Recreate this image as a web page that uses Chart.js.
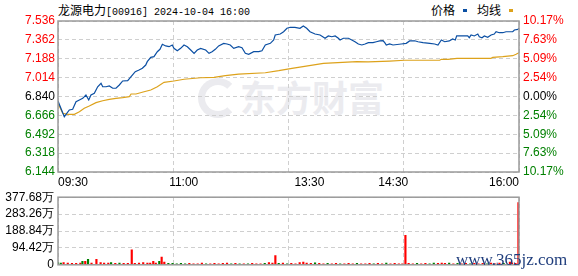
<!DOCTYPE html>
<html>
<head>
<meta charset="utf-8">
<script src="https://cdn.jsdelivr.net/npm/chart.js@4.4.1/dist/chart.umd.min.js"></script>
<style>
body { margin: 0; background: #fff; width: 578px; height: 276px; overflow: hidden; position: relative; }
canvas { position: absolute; left: 0; }
.txt { position: absolute; white-space: nowrap; }
.cn { font-family: 'Noto Sans CJK SC', sans-serif; font-size: 12px; line-height: 14px; }
.mono { font-family: 'Liberation Mono', monospace; font-size: 10px; line-height: 14px; }
.mark { width: 4px; height: 3px; position: absolute; }
#wmText { left: 240px; top: 76px; font-family: 'Noto Sans CJK SC'; font-weight: bold; font-size: 36px; line-height: 40px; color: #ebebef; }
#wmLogo { left: 198px; top: 78px; width: 26px; height: 26px; border: 7px solid #ebebef; border-right-color: transparent; border-radius: 50%; }
#site { left: 456px; top: 251px; font-family: 'Liberation Serif', serif; font-size: 17px; line-height: 17px; color: #1f3d7c; z-index: 5; }
</style>
</head>
<body>
<div id="wmLogo" class="txt"></div>
<div id="wmText" class="txt">东方财富</div>
<div class="txt" style="left:58px;top:1px"><span class="cn">龙源电力</span><span class="mono">[00916] 2024-10-04 16:00</span></div>
<div class="txt cn" style="left:431px;top:3px">价格</div>
<div class="mark" style="left:463px;top:9px;background:#0b4fa3"></div>
<div class="txt cn" style="left:477px;top:3px">均线</div>
<div class="mark" style="left:509px;top:9px;background:#dda21b"></div>
<canvas id="priceChart" width="578" height="192" style="top:0"></canvas>
<canvas id="volChart" width="578" height="90" style="top:186px"></canvas>
<div id="site" class="txt">www.365jz.com</div>
<script>
// minutes since 09:30 (lunch break removed), 330 = 16:00
const prevClose = 6.840;
const timeTicks = [0, 90, 180, 240, 330];
const timeLabels = ['09:30', '11:00', '13:30', '14:30', '16:00'];
const gridTicks = [0, 82.5, 165, 247.5, 330];

const priceTicks = [6.144, 6.318, 6.492, 6.666, 6.840, 7.014, 7.188, 7.362, 7.536];
const pctLabels = ['10.17%', '7.63%', '5.09%', '2.54%', '0.00%', '2.54%', '5.09%', '7.63%', '10.17%'];

const priceMin = [0, 4.5, 8.1, 10.5, 12.9, 15.3, 17.7, 20, 22, 23.6,
    26, 28.4, 30.8, 32, 34.4, 36.7, 39.2, 41.5, 43.9, 46.3,
    49.9, 52.3, 55.3, 58, 60.4, 62.8, 63.9, 66.4, 68.7, 71.1,
    73, 74.7, 77.1, 79.5, 81.8, 83, 85.4, 87.8, 90.2, 92.6,
    95, 97.4, 99.7, 102.1, 105.7, 108.1, 110.3, 112.6, 115, 118.6,
    121, 123.3, 125.8, 129.3, 131.7, 134.1, 136.5, 140.1, 143.7, 146,
    148.4, 152, 154.4, 155.5, 159.1, 161.5, 163.9, 166.3, 169.6, 173.2,
    175.6, 178, 180.4, 184, 187.6, 191.2, 193.5, 196, 198.4, 200.7,
    201.9, 204.3, 207.9, 210.3, 212.6, 215, 217.5, 219.8, 222.2, 225.5,
    227.9, 230.3, 232.7, 233.9, 235, 237.4, 239.8, 245.7, 249.3, 251.7,
    255.3, 257.7, 261.3, 266.1, 269.6, 272, 274.4, 276.8, 280.1, 282.5,
    284.4, 285.4, 288.5, 293.3, 294.4, 295.7, 298, 300.5, 301.6, 303.5,
    305.2, 307.6, 310, 312.3, 313.6, 315.9, 318.4, 320.7, 325.5, 326.7,
    329.1, 330];
const price = [6.798, 6.654, 6.716, 6.722, 6.792, 6.808, 6.823, 6.854, 6.808, 6.854,
    6.870, 6.930, 6.962, 6.930, 6.930, 6.937, 6.916, 6.916, 6.946, 6.983,
    6.986, 7.023, 7.069, 7.084, 7.100, 7.130, 7.161, 7.201, 7.207, 7.253,
    7.275, 7.321, 7.306, 7.299, 7.315, 7.284, 7.262, 7.284, 7.315, 7.299,
    7.269, 7.238, 7.269, 7.284, 7.269, 7.238, 7.253, 7.275, 7.306, 7.330,
    7.324, 7.315, 7.284, 7.299, 7.290, 7.238, 7.229, 7.253, 7.253, 7.262,
    7.315, 7.330, 7.361, 7.407, 7.416, 7.437, 7.469, 7.478, 7.478, 7.469,
    7.490, 7.469, 7.437, 7.416, 7.407, 7.377, 7.398, 7.391, 7.398, 7.377,
    7.361, 7.377, 7.377, 7.361, 7.345, 7.324, 7.315, 7.324, 7.336, 7.336,
    7.345, 7.352, 7.354, 7.336, 7.315, 7.324, 7.315, 7.324, 7.330, 7.352,
    7.354, 7.345, 7.336, 7.330, 7.324, 7.315, 7.361, 7.345, 7.352, 7.370,
    7.361, 7.400, 7.398, 7.398, 7.382, 7.407, 7.398, 7.416, 7.391, 7.382,
    7.398, 7.386, 7.407, 7.416, 7.437, 7.428, 7.428, 7.437, 7.437, 7.453,
    7.459, 7.469];

const avgMin = [0, 3.4, 6.9, 11.7, 15.3, 18.8, 22.4, 27.2, 32, 36.7,
    41.5, 46.3, 51, 52.3, 55.8, 61.6, 66.4, 71.1, 75.9, 83,
    90.2, 102.1, 111.7, 119.8, 129.3, 148.4, 158, 167.5, 190, 213.9,
    222, 237.4, 248.1, 273.2, 274.4, 279.2, 285.6, 310, 311.2, 318.4,
    325.5, 327.9, 330];
const avgPrice = [6.777, 6.685, 6.676, 6.676, 6.700, 6.731, 6.752, 6.783, 6.801, 6.814,
    6.823, 6.829, 6.838, 6.863, 6.863, 6.884, 6.900, 6.930, 6.971, 6.983,
    6.999, 7.013, 7.017, 7.032, 7.047, 7.059, 7.078, 7.100, 7.146, 7.161,
    7.160, 7.167, 7.174, 7.174, 7.183, 7.183, 7.192, 7.192, 7.201, 7.207,
    7.216, 7.229, 7.244];

// volume in 万 shares
const volTicks = [0, 94.42, 188.84, 283.26, 377.68];
const volLabels = ['0', '94.42万', '188.84万', '283.26万', '377.68万'];
const volTime = [0, 2, 4, 7, 10, 13, 16, 17.5, 19.5, 21.5,
    24, 27.5, 30.5, 33, 36, 38, 41, 44, 47, 50,
    52.8, 55, 58, 61, 64, 66, 68.2, 70, 72.5, 74.2,
    76.1, 79, 82, 85, 88, 91, 94, 97, 100, 103,
    106, 109, 112, 115, 118, 121, 124, 127, 130, 133,
    136, 139, 142, 145, 148, 151, 153.5, 155.6, 158, 161,
    164, 167, 170, 173, 175.6, 178, 181, 184, 187, 190,
    193, 196, 199, 202, 205, 208, 211, 214, 217, 220,
    223, 226, 229, 232, 235, 238, 241, 244, 246.5, 248.7,
    251, 254, 257, 260, 263, 266, 269, 272, 274.7, 277,
    280, 283, 286, 289, 292, 295, 298, 301, 304, 307,
    310, 313, 316, 319, 323.5, 325, 327.5, 329.6];
const volValue = [12, 10, 12, 9, 8, 8, 10, 20, 20, 30,
    9, 30, 12, 9, 10, 12, 8, 10, 8, 8,
    84, 8, 9, 12, 9, 10, 20, 9, 20, 43,
    15, 8, 8, 6, 8, 6, 8, 6, 6, 9,
    6, 6, 8, 6, 8, 9, 6, 8, 6, 6,
    6, 8, 6, 6, 8, 12, 9, 52, 8, 9,
    6, 8, 6, 12, 15, 9, 8, 11, 8, 6,
    8, 6, 8, 6, 6, 8, 6, 8, 6, 6,
    8, 6, 8, 6, 9, 6, 8, 6, 6, 164,
    8, 6, 8, 6, 8, 6, 9, 8, 10, 8,
    9, 6, 8, 6, 8, 6, 8, 6, 8, 6,
    10, 6, 9, 8, 15, 11, 8, 348];
const volUp = [0, 0, 1, 1, 1, 1, 1, 0, 1, 0,
    1, 1, 1, 1, 1, 0, 1, 0, 1, 1,
    1, 1, 1, 1, 1, 1, 1, 1, 0, 1,
    1, 0, 0, 0, 0, 0, 1, 1, 1, 1,
    0, 1, 1, 1, 1, 1, 0, 1, 0, 1,
    0, 1, 1, 1, 0, 1, 1, 1, 0, 1,
    0, 1, 1, 1, 1, 1, 1, 0, 1, 1,
    0, 1, 1, 0, 1, 1, 1, 0, 1, 1,
    1, 0, 1, 1, 0, 1, 1, 1, 1, 1,
    1, 1, 0, 1, 1, 0, 0, 1, 1, 1,
    0, 1, 0, 1, 1, 0, 1, 1, 1, 0,
    1, 1, 1, 0, 1, 1, 1, 1];

const RED = '#ff0000';
const GREEN = '#008000';
const gridColor = '#cfcfcf';
const tickFont = { family: "'Liberation Sans', Arial, sans-serif", size: 12 };

// gray box round the plot area
const framePlugin = {
    id: 'frame',
    afterDraw(chart) {
        const { ctx, chartArea: a } = chart;
        ctx.save();
        ctx.strokeStyle = '#9a9a9a';
        ctx.lineWidth = 1.5;
        ctx.strokeRect(a.left, a.top, a.right - a.left, a.bottom - a.top);
        ctx.restore();
    }
};

function priceColor(c) {
    const v = c.tick.value;
    if (v > prevClose + 1e-6) return RED;
    if (v < prevClose - 1e-6) return GREEN;
    return '#000';
}

function gridAxis() {
    return {
        type: 'linear', position: 'top', min: 0, max: 330, offset: false,
        afterBuildTicks: s => { s.ticks = gridTicks.map(v => ({ value: v })); },
        ticks: { display: false },
        grid: { color: gridColor, drawTicks: false, offset: false },
        border: { display: false, dash: [4, 3] },
        afterFit: s => { s.height = 0; }
    };
}

new Chart(document.getElementById('priceChart'), {
    type: 'line',
    data: {
        datasets: [
            {
                data: priceMin.map((m, i) => ({ x: m, y: price[i] })),
                borderColor: '#0b4fa3', borderWidth: 1.2, pointRadius: 0, tension: 0
            },
            {
                data: avgMin.map((m, i) => ({ x: m, y: avgPrice[i] })),
                borderColor: '#dda21b', borderWidth: 1.2, pointRadius: 0, tension: 0
            }
        ]
    },
    options: {
        responsive: false, animation: false,
        layout: { padding: { top: 21, left: 0, right: 0, bottom: 0 } },
        plugins: { legend: { display: false }, tooltip: { enabled: false } },
        scales: {
            x: {
                type: 'linear', min: 0, max: 330,
                afterBuildTicks: s => { s.ticks = timeTicks.map(v => ({ value: v })); },
                ticks: {
                    align: 'inner', maxRotation: 0, autoSkip: false, padding: 3,
                    font: tickFont, color: '#000',
                    callback: (v, i) => timeLabels[i]
                },
                grid: { display: false, drawTicks: false },
                border: { display: false },
                afterFit: s => { s.height = 20; }
            },
            xg: gridAxis(),
            y: {
                min: priceTicks[0], max: priceTicks[priceTicks.length - 1],
                afterBuildTicks: s => { s.ticks = priceTicks.map(v => ({ value: v })); },
                ticks: { font: tickFont, color: priceColor, padding: 3, callback: v => v.toFixed(3) },
                grid: { color: gridColor, drawTicks: false },
                border: { display: false, dash: [4, 3] },
                afterFit: s => { s.width = 58; }
            },
            y2: {
                position: 'right',
                min: priceTicks[0], max: priceTicks[priceTicks.length - 1],
                afterBuildTicks: s => { s.ticks = priceTicks.map(v => ({ value: v })); },
                ticks: { font: tickFont, color: priceColor, padding: 4, callback: (v, i) => pctLabels[i] },
                grid: { display: false, drawTicks: false },
                border: { display: false },
                afterFit: s => { s.width = 59; }
            }
        }
    },
    plugins: [framePlugin]
});

new Chart(document.getElementById('volChart'), {
    type: 'bar',
    data: {
        datasets: [{
            data: volTime.map((m, i) => ({ x: m, y: volValue[i] })),
            backgroundColor: volUp.map(u => u ? RED : GREEN),
            barThickness: 1.5
        }]
    },
    options: {
        responsive: false, animation: false,
        layout: { padding: { top: 10, left: 0, right: 59, bottom: 7 } },
        plugins: { legend: { display: false }, tooltip: { enabled: false } },
        scales: {
            x: gridAxis(),
            y: {
                min: 0, max: volTicks[volTicks.length - 1],
                afterBuildTicks: s => { s.ticks = volTicks.map(v => ({ value: v })); },
                ticks: { font: tickFont, color: '#000', padding: 4, callback: (v, i) => volLabels[i] },
                grid: { color: gridColor, drawTicks: false },
                border: { display: false, dash: [4, 3] },
                afterFit: s => { s.width = 58; }
            }
        }
    },
    plugins: [framePlugin]
});
</script>
</body>
</html>
